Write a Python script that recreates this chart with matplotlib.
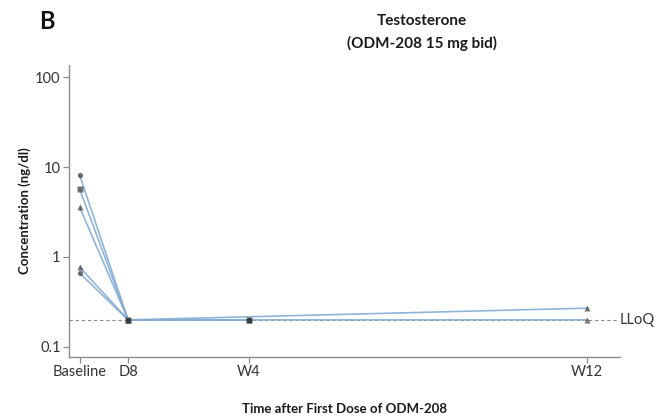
import numpy as np
import matplotlib
matplotlib.use("Agg")
import matplotlib.pyplot as plt

plt.rcParams['font.family'] = ['Lato', 'DejaVu Sans']

# Visit schedule (days after first dose) and tick labels
visit_days = [0, 8, 28, 84]
visit_labels = ["Baseline", "D8", "W4", "W12"]

# Testosterone concentrations (ng/dl) per patient; nan = no sample at that visit
patient_1 = [8.07, 0.2, 0.2, np.nan]
patient_2 = [5.64, 0.2, 0.2, np.nan]
patient_3 = [3.56, 0.2, np.nan, 0.27]
patient_4 = [0.77, 0.2, 0.2, 0.2]
patient_5 = [0.66, 0.2, 0.2, np.nan]
patients = [patient_1, patient_2, patient_3, patient_4, patient_5]
patient_markers = ["o", "s", "^", "^", "o"]

lloq = 0.2
y_ticks = [0.1, 1, 10, 100]
y_tick_labels = ["0.1", "1", "10", "100"]

fig = plt.figure(figsize=(6.56, 4.17), dpi=100)
ax = fig.add_axes([0.105, 0.144, 0.84, 0.70])

# Lower limit of quantification
ax.axhline(lloq, color="#8a8a8a", lw=0.8, ls=(0, (3, 2.5)), xmax=0.995, zorder=1)

days_arr = np.array(visit_days, dtype=float)
for vals, mk in zip(patients, patient_markers):
    v = np.array(vals, dtype=float)
    ok = ~np.isnan(v)
    ax.plot(days_arr[ok], v[ok], color="#84acd4", lw=1.2, alpha=0.9, zorder=2)
    ax.plot(days_arr[ok], v[ok], ls="none", marker=mk, ms=3.8,
            color="#3a3a3a", mec="none", alpha=0.7, zorder=3)

ax.set_yscale("log")
ax.set_ylim(0.0774, 136)
ax.set_xlim(-1.8, 89.4)
ax.set_yticks(y_ticks)
ax.set_yticklabels(y_tick_labels)
ax.yaxis.set_minor_locator(matplotlib.ticker.NullLocator())
ax.set_xticks(visit_days)
ax.set_xticklabels(visit_labels)

for side in ("top", "right"):
    ax.spines[side].set_visible(False)
for side in ("left", "bottom"):
    ax.spines[side].set_color("#8c8c8c")
    ax.spines[side].set_linewidth(1.0)
ax.tick_params(axis="both", direction="out", length=4, width=0.9,
               color="#8c8c8c", labelsize=10.5, labelcolor="#333333", pad=2)

ax.set_xlabel("Time after First Dose of ODM-208", fontsize=9.5,
              fontweight="bold", color="#1a1a1a", labelpad=17)
ax.set_ylabel("Concentration (ng/dl)", fontsize=9.5, fontweight="bold",
              color="#1a1a1a", labelpad=3)

ax.text(1.0, lloq, "LLoQ", transform=ax.get_yaxis_transform(),
        ha="left", va="center", fontsize=10.5, color="#333333")

fig.text(0.643, 0.922, "Testosterone\n(ODM-208 15 mg bid)", ha="center",
         va="center", fontsize=11, fontweight="bold", color="#1a1a1a",
         linespacing=1.7)
fig.text(0.06, 0.948, "B", ha="left", va="center", fontsize=17,
         fontweight="bold", color="#111111")

fig.savefig("out.png", dpi=100)
